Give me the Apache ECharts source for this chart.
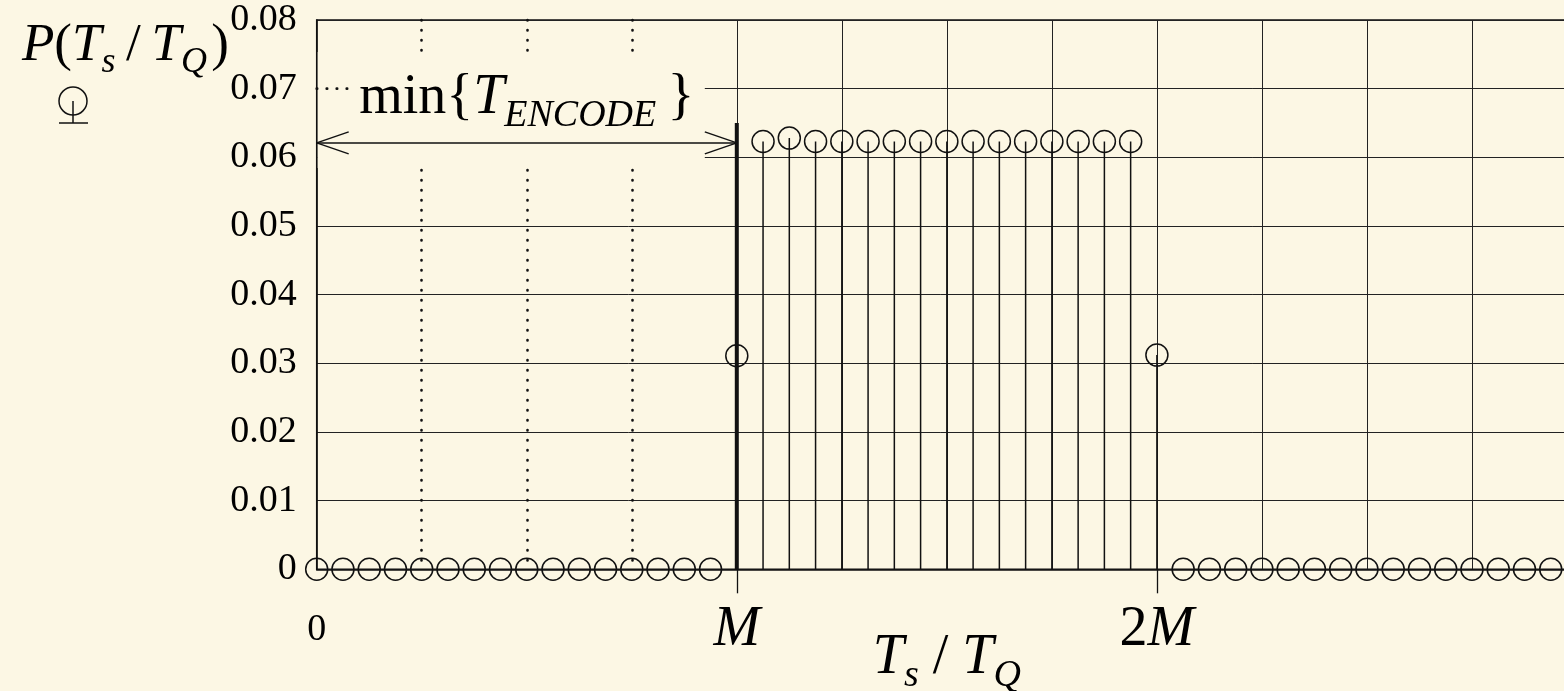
<!DOCTYPE html>
<html>
<head>
<meta charset="utf-8">
<script src="https://cdn.jsdelivr.net/npm/echarts@6/dist/echarts.min.js"></script>
<style>
  html, body { margin: 0; padding: 0; background: #fcf7e4; }
  #chart { width: 1564px; height: 691px; }
</style>
</head>
<body>
<div id="chart"></div>
<script>
// Sample index k = Ts/TQ, with M = 16 samples per encode period.
const M = 16;
const xMax = 48;
const gridStep = 4;                       // M / 4

// P(Ts/TQ) for k = 0 .. 47
const probability = [
  0, 0, 0, 0, 0, 0, 0, 0, 0, 0, 0, 0, 0, 0, 0, 0,
  0.0311,
  0.0623, 0.0628, 0.0623, 0.0623, 0.0623, 0.0623, 0.0623, 0.0623,
  0.0623, 0.0623, 0.0623, 0.0623, 0.0623, 0.0623, 0.0623,
  0.0312,
  0, 0, 0, 0, 0, 0, 0, 0, 0, 0, 0, 0, 0, 0, 0
];

// Axis ticks
const xTickValues = [0, 16, 32];
const xTickLabels = ['0', 'M', '2M'];
const yMin = 0, yMax = 0.08, yStep = 0.01;

// min{T_ENCODE} span and the bold marker at k = M
const encodeSpan = [0, 16];
const encodeLevel = 0.0621;
const markerTop = 0.065;

const SERIF = '"Liberation Serif", "Times New Roman", serif';
const INK = '#111';
const BG = '#fcf7e4';

const points = probability.map((v, i) => [i, v]);

// split-line colours cycle per grid line (k = 0, 4, 8, ..., 48)
const solidColors = [], dottedColors = [];
for (let k = 0; k <= xMax; k += gridStep) {
  const inLeft = k > 0 && k < M;
  solidColors.push(inLeft || k === 0 ? 'rgba(0,0,0,0)' : '#222');
  dottedColors.push(inLeft ? INK : 'rgba(0,0,0,0)');
}

const base = { fontFamily: SERIF, fontWeight: 'normal', color: '#000', lineHeight: 64 };
const bigRich = {
  i: Object.assign({}, base, { fontStyle: 'italic', fontSize: 56 }),
  n: Object.assign({}, base, { fontSize: 56 }),
  z: Object.assign({}, base, { fontSize: 38 }),
  s: Object.assign({}, base, { fontStyle: 'italic', fontSize: 38, padding: [36, 0, 0, 0] })
};
// slightly smaller set for the y-axis title
const titleRich = {
  i: Object.assign({}, base, { fontStyle: 'italic', fontSize: 53 }),
  n: Object.assign({}, base, { fontSize: 53 }),
  s: Object.assign({}, base, { fontStyle: 'italic', fontSize: 36, padding: [34, 0, 0, 0] })
};

const chart = echarts.init(document.getElementById('chart'), null, { renderer: 'canvas' });

const xBase = {
  type: 'value', min: 0, max: xMax, interval: gridStep,
  gridIndex: 0, position: 'bottom',
  axisLine: { show: false }, axisTick: { show: false }, axisLabel: { show: false }
};

chart.setOption({
  backgroundColor: BG,
  animation: false,
  title: {
    text: '{i|P}{n|(}{i|T}{s|s}{n|\u2009/\u2009}{i|T}{s|Q}{n|\u200A)}',
    left: 17, top: 9,
    textStyle: { rich: titleRich, fontFamily: SERIF, fontWeight: 'normal', fontSize: 53, color: '#000' }
  },
  grid: {
    left: 316.7, top: 20, right: -13, bottom: 121.7,
    containLabel: false, outerBoundsMode: 'none',
    show: true, borderColor: INK, borderWidth: 1.5, backgroundColor: 'rgba(0,0,0,0)'
  },
  xAxis: [
    Object.assign({}, xBase, {
      splitLine: { show: true, showMinLine: true, showMaxLine: true,
        lineStyle: { color: solidColors, width: 1 } }
    }),
    Object.assign({}, xBase, {
      splitLine: { show: true, showMinLine: true, showMaxLine: true,
        lineStyle: { color: dottedColors, width: 2.6, type: [0.5, 9.5], cap: 'round' } }
    }),
    {
      type: 'value', min: 0, max: xMax, gridIndex: 0, position: 'bottom',
      interval: M,
      axisLine: { show: true, lineStyle: { color: INK, width: 1.5 } },
      axisTick: { show: true, customValues: [16, 32], length: 24, lineStyle: { color: INK, width: 1.3 } },
      axisLabel: {
        customValues: xTickValues,
        margin: 29,
        formatter: v => {
          const t = xTickLabels[xTickValues.indexOf(v)];
          if (t === '0') return '{z|0}';
          return t.replace(/^([0-9]*)M$/, (m, d) => (d ? '{n|' + d + '}' : '') + '{i|M}');
        },
        rich: bigRich
      },
      splitLine: { show: false },
      name: '{i|T}{s|s}{n| / }{i|T}{s|Q}',
      nameLocation: 'middle',
      nameGap: 57,
      nameMoveOverlap: false,
      nameTextStyle: { rich: bigRich }
    }
  ],
  yAxis: {
    type: 'value', min: yMin, max: yMax, interval: yStep,
    axisLine: { show: true, lineStyle: { color: INK, width: 1.5 } },
    axisTick: { show: false },
    axisLabel: {
      margin: 20, fontFamily: SERIF, fontSize: 38, color: '#000',
      formatter: v => (v === 0 ? '0' : v.toFixed(2))
    },
    splitLine: { show: true, lineStyle: { color: '#222', width: 1 } }
  },
  graphic: [
    // stem-and-circle key under the y-axis title
    { type: 'circle', shape: { cx: 73, cy: 101, r: 14 }, style: { fill: 'none', stroke: INK, lineWidth: 1.5 } },
    { type: 'line', shape: { x1: 73, y1: 101, x2: 73, y2: 123 }, style: { stroke: INK, lineWidth: 1.5 } },
    { type: 'line', shape: { x1: 59, y1: 123, x2: 88, y2: 123 }, style: { stroke: INK, lineWidth: 1.5 } }
  ],
  series: [
    {
      name: 'stems', type: 'bar', xAxisIndex: 2, yAxisIndex: 0,
      data: points, barWidth: 1.5, silent: true,
      itemStyle: { color: INK }, z: 3
    },
    {
      name: 'P', type: 'scatter', xAxisIndex: 2, yAxisIndex: 0,
      data: points, symbol: 'circle', symbolSize: 22, silent: true,
      itemStyle: { color: 'rgba(0,0,0,0)', borderColor: INK, borderWidth: 1.5, opacity: 1 },
      z: 4
    },
    {
      name: 'encode', type: 'custom', xAxisIndex: 2, yAxisIndex: 0,
      silent: true, z: 5, clip: false,
      data: [[encodeSpan[0], encodeSpan[1], encodeLevel, markerTop]],
      renderItem: (params, api) => {
        const a = api.coord([api.value(0), api.value(2)]);
        const b = api.coord([api.value(1), api.value(2)]);
        const top = api.coord([api.value(1), api.value(3)]);
        const foot = api.coord([api.value(1), 0]);
        const dotsY = api.coord([0, 0.07])[1];
        const head = 32, half = 11;
        const line = (x1, y1, x2, y2, w) => ({
          type: 'line', shape: { x1, y1, x2, y2 },
          style: { stroke: INK, lineWidth: w || 1.5 }
        });
        return {
          type: 'group',
          children: [
            // clear band behind the label
            { type: 'rect', shape: { x: a[0] + 1, y: a[1] - 91, width: b[0] - a[0] - 33, height: 116 },
              style: { fill: BG } },
            { type: 'line', shape: { x1: a[0], y1: dotsY, x2: a[0] + 32, y2: dotsY },
              style: { stroke: INK, lineWidth: 2.6, lineDash: [0.5, 9.5], lineCap: 'round' } },
            line(a[0], a[1], b[0], b[1]),
            line(a[0], a[1], a[0] + head, a[1] - half),
            line(a[0], a[1], a[0] + head, a[1] + half),
            line(b[0], b[1], b[0] - head, b[1] - half),
            line(b[0], b[1], b[0] - head, b[1] + half),
            line(top[0], top[1], foot[0], foot[1], 4),
            {
              type: 'text',
              x: (a[0] + b[0]) / 2, y: a[1] - 13,
              style: {
                text: '{n|min{}{i|T}{s|ENCODE}{n|\u2009}}',
                rich: bigRich,
                fontFamily: SERIF, fontSize: 56, fill: '#000',
                align: 'center', verticalAlign: 'bottom'
              }
            }
          ]
        };
      }
    }
  ]
});
</script>
</body>
</html>
